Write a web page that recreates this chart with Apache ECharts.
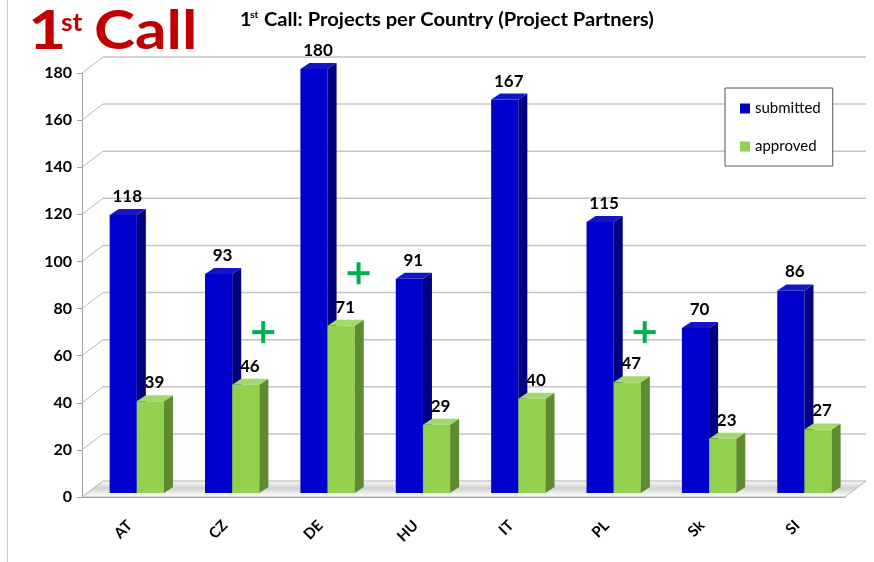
<!DOCTYPE html>
<html>
<head>
<meta charset="utf-8">
<script src="https://cdn.jsdelivr.net/npm/echarts@6/dist/echarts.min.js"></script>
<style>
  html, body { margin: 0; padding: 0; background: #fff; }
  #chart { width: 874px; height: 562px; }
</style>
</head>
<body>
<div id="chart"></div>
<script>
const categories = ['AT', 'CZ', 'DE', 'HU', 'IT', 'PL', 'Sk', 'SI']
const submitted = [118, 93, 180, 91, 167, 115, 70, 86]
const approved = [39, 46, 71, 29, 40, 47, 23, 27]
const yTicks = [0, 20, 40, 60, 80, 100, 120, 140, 160, 180]
// green "+" marks: [category index, value]
const plusMarks = [[1, 70], [2, 95], [5, 70]]

const font = 'Lato, "Open Sans", sans-serif'
const wallDx = 21
const wallDy = -16

const chart = echarts.init(document.getElementById('chart'))

// 3D-looking bar: front face, side and top
function bar3d(offset, colors) {
  return function (params, api) {
    const cat = api.value(0)
    const v = api.value(1)
    const base = api.coord([cat, 0])
    const top = api.coord([cat, v])
    const bw = api.size([1, 0])[0]
    const w = bw * 0.285
    const x0 = base[0] + offset * bw
    const x1 = x0 + w
    const yb = base[1] - 4
    const yt = top[1] - 4
    const dx = 9
    const dy = -6
    return {
      type: 'group',
      children: [
        {
          type: 'rect',
          shape: { x: x0, y: yt, width: w, height: yb - yt },
          style: { fill: colors[0] },
        },
        {
          type: 'polygon',
          shape: { points: [[x1, yt], [x1 + dx, yt + dy], [x1 + dx, yb + dy], [x1, yb]] },
          style: { fill: colors[1] },
        },
        {
          type: 'polygon',
          shape: { points: [[x0, yt], [x0 + dx, yt + dy], [x1 + dx, yt + dy], [x1, yt]] },
          style: { fill: colors[2] },
        },
        {
          type: 'text',
          x: x0 + w / 2 + 4,
          y: yt + dy - 4,
          style: {
            text: String(v),
            fill: '#000',
            font: 'bold 17px ' + font,
            align: 'center',
            verticalAlign: 'bottom',
          },
        },
      ],
    }
  }
}

function renderWall(params, api) {
  const t = api.value(1)
  const p = api.coord([0, t])
  const cs = params.coordSys
  const left = cs.x
  const right = cs.x + cs.width
  const y = p[1]
  if (t === 0) {
    return {
      type: 'polygon',
      shape: { points: [[left, y], [right, y], [right + wallDx, y + wallDy], [left + wallDx, y + wallDy]] },
      style: {
        fill: new echarts.graphic.LinearGradient(0, 0, 0, 1, [
          { offset: 0, color: '#ffffff' },
          { offset: 0.45, color: '#d0d0d0' },
          { offset: 0.75, color: '#eeeeee' },
          { offset: 1, color: '#ffffff' },
        ]),
        stroke: '#b0b0b0',
        lineWidth: 1,
      },
    }
  }
  return {
    type: 'group',
    children: [
      {
        type: 'line',
        shape: { x1: left, y1: y, x2: left + wallDx, y2: y + wallDy },
        style: { stroke: '#b8b8b8', lineWidth: 1 },
      },
      {
        type: 'line',
        shape: { x1: left + wallDx, y1: y + wallDy, x2: right + wallDx, y2: y + wallDy },
        style: { stroke: '#c4c4c4', lineWidth: 1.5 },
      },
    ],
  }
}

function renderPlus(params, api) {
  const p = api.coord([api.value(0), api.value(1)])
  const bw = api.size([1, 0])[0]
  const cx = p[0] + bw * 0.4
  const cy = p[1]
  return {
    type: 'group',
    children: [
      { type: 'rect', shape: { x: cx - 11, y: cy - 2, width: 22, height: 4 }, style: { fill: '#00b050' } },
      { type: 'rect', shape: { x: cx - 2, y: cy - 11, width: 4, height: 22 }, style: { fill: '#00b050' } },
    ],
  }
}

chart.setOption({
  animation: false,
  textStyle: { fontFamily: font },
  graphic: [
    { type: 'line', shape: { x1: 7.5, y1: 0, x2: 7.5, y2: 562 }, style: { stroke: '#c8c8c8', lineWidth: 1 } },
    { type: 'text', x: 28, y: 5, scaleX: 1.25, style: { text: '1', fill: '#c00000', font: 'bold 53px ' + font, verticalAlign: 'top' } },
    { type: 'text', x: 61, y: 11, scaleX: 1.1, style: { text: 'st', fill: '#c00000', font: 'bold 24px ' + font, verticalAlign: 'top' } },
    { type: 'text', x: 94, y: 5, scaleX: 1.17, style: { text: 'Call', fill: '#c00000', font: 'bold 53px ' + font, verticalAlign: 'top' } },
    { type: 'text', x: 240, y: 11, scaleX: 1.1, style: { text: '1', fill: '#000', font: 'bold 18px ' + font, verticalAlign: 'top' } },
    { type: 'text', x: 250, y: 10, scaleX: 1.05, style: { text: 'st', fill: '#000', font: 'bold 10px ' + font, verticalAlign: 'top' } },
    { type: 'text', x: 264, y: 11, scaleX: 1.12, style: { text: 'Call: Projects per Country (Project Partners)', fill: '#000', font: 'bold 18px ' + font, verticalAlign: 'top' } },
  ],
  legend: {
    data: ['submitted', 'approved'],
    orient: 'vertical',
    left: 725,
    top: 88,
    padding: [13, 12, 12, 15],
    itemWidth: 10,
    itemHeight: 10,
    itemGap: 23,
    icon: 'rect',
    backgroundColor: '#fff',
    borderColor: '#555',
    borderWidth: 1,
    textStyle: { fontSize: 15, color: '#000', fontFamily: font },
  },
  grid: {
    left: 82,
    right: 29,
    top: 73,
    bottom: 65,
  },
  xAxis: {
    type: 'category',
    data: categories,
    axisLine: { lineStyle: { color: '#a0a0a0' } },
    axisTick: { length: 6, lineStyle: { color: '#a0a0a0' } },
    axisLabel: {
      rotate: 45,
      margin: 26,
      color: '#000',
      fontWeight: 'bold',
      fontSize: 15,
    },
  },
  yAxis: {
    type: 'value',
    min: 0,
    max: 180,
    interval: 20,
    splitLine: { show: false },
    axisLine: { show: true, lineStyle: { color: '#a0a0a0' } },
    axisTick: { show: true, length: 5, lineStyle: { color: '#a0a0a0' } },
    axisLabel: { margin: 10, color: '#000', fontWeight: 'bold', fontSize: 16 },
  },
  series: [
    {
      name: 'wall',
      type: 'custom',
      renderItem: renderWall,
      data: yTicks.map((t) => [0, t]),
      z: 1,
      silent: true,
    },
    {
      name: 'submitted',
      type: 'custom',
      renderItem: bar3d(-0.21, ['#0000cc', '#000080', '#1515c8']),
      itemStyle: { color: '#0000cc' },
      data: submitted.map((v, i) => [i, v]),
      z: 3,
    },
    {
      name: 'approved',
      type: 'custom',
      renderItem: bar3d(0.075, ['#92d050', '#5e8b30', '#a3d96a']),
      itemStyle: { color: '#92d050' },
      data: approved.map((v, i) => [i, v]),
      z: 4,
    },
    {
      name: 'plus',
      type: 'custom',
      renderItem: renderPlus,
      data: plusMarks,
      z: 5,
    },
  ],
})
</script>
</body>
</html>
